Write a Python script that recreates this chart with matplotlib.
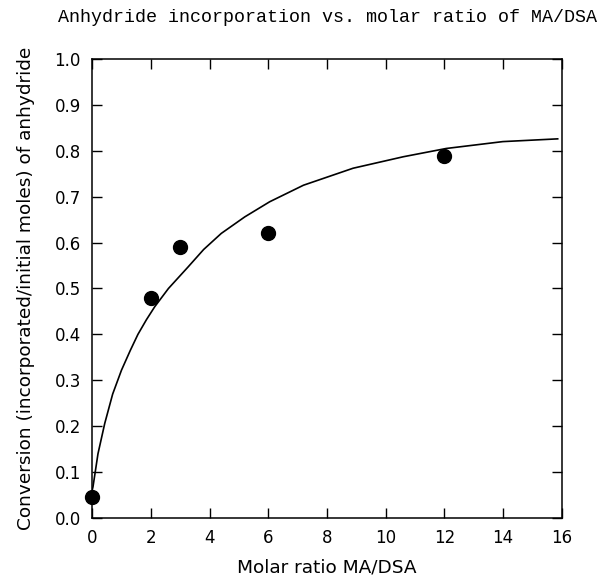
import matplotlib
matplotlib.use("Agg")
import matplotlib.pyplot as plt

# measured points
ratio = [0, 2, 3, 6, 12]
conversion = [0.046, 0.48, 0.59, 0.62, 0.788]

# fitted curve
curve_x = [0.0, 0.03, 0.2, 0.43, 0.7, 1.0, 1.3, 1.56, 1.85, 2.13, 2.6, 3.27, 3.8, 4.4,
           5.2, 6.05, 7.2, 8.89, 10.6, 12.06, 13.99, 15.86]
curve_y = [0.06, 0.068, 0.14, 0.206, 0.27, 0.322, 0.365, 0.40, 0.432, 0.46, 0.50, 0.547,
           0.585, 0.62, 0.656, 0.689, 0.725, 0.762, 0.787, 0.805, 0.82, 0.826]

xticks = list(range(0, 17, 2))
yticks = [i / 10 for i in range(11)]

fig = plt.figure(figsize=(6.1, 5.84), dpi=100)
ax = fig.add_axes([0.151, 0.113, 0.770, 0.786])

ax.plot(curve_x, curve_y, color="black", lw=1.2)
ax.plot(ratio, conversion, "o", color="black", ms=10, clip_on=False)

ax.set_xlim(0, 16)
ax.set_ylim(0, 1.0)
ax.set_xticks(xticks)
ax.set_yticks(yticks)
ax.set_yticklabels(["%.1f" % v for v in yticks])
ax.tick_params(direction="in", length=7, width=1, top=True, right=True,
               labelsize=12, pad=8)
for s in ax.spines.values():
    s.set_linewidth(1.1)

ax.set_xlabel("Molar ratio MA/DSA", fontsize=13.3, labelpad=8)
ax.set_ylabel("Conversion (incorporated/initial moles) of anhydride", fontsize=13.3, labelpad=14)
fig.text(0.978, 0.97, "Anhydride incorporation vs. molar ratio of MA/DSA",
         family="Liberation Mono", fontsize=13.2, ha="right", va="center")

fig.savefig("out.png", dpi=100)
